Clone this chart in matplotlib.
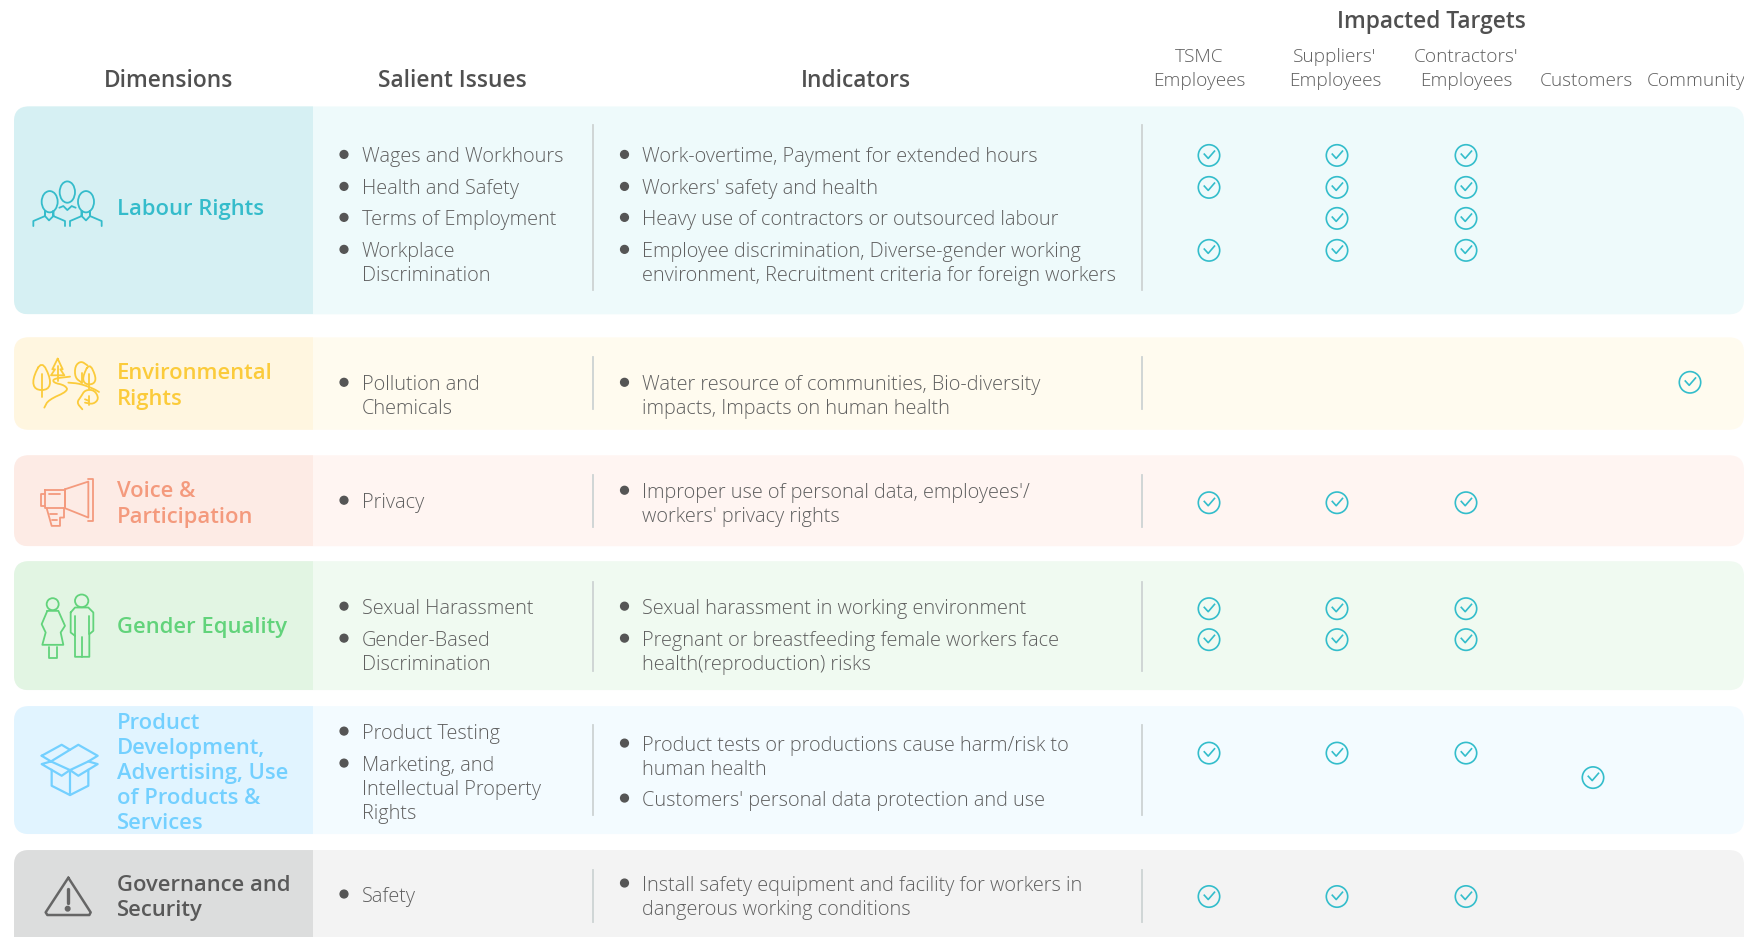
import matplotlib
matplotlib.use('Agg')
import matplotlib.pyplot as plt
from matplotlib.patches import FancyBboxPatch, Rectangle, Ellipse, Circle

plt.rcParams['font.family'] = ['Open Sans', 'DejaVu Sans']

# data
dimensions = ["Labour Rights", "Environmental\nRights", "Voice &\nParticipation", "Gender Equality",
              "Product\nDevelopment,\nAdvertising, Use\nof Products &\nServices", "Governance and\nSecurity"]
issues = [["Wages and Workhours", "Health and Safety", "Terms of Employment", "Workplace\nDiscrimination"],
          ["Pollution and\nChemicals"],
          ["Privacy"],
          ["Sexual Harassment", "Gender-Based\nDiscrimination"],
          ["Product Testing", "Marketing, and\nIntellectual Property\nRights"],
          ["Safety"]]
indicators = [["Work-overtime, Payment for extended hours", "Workers' safety and health",
               "Heavy use of contractors or outsourced labour",
               "Employee discrimination, Diverse-gender working\nenvironment, Recruitment criteria for foreign workers"],
              ["Water resource of communities, Bio-diversity\nimpacts, Impacts on human health"],
              ["Improper use of personal data, employees'/\nworkers' privacy rights"],
              ["Sexual harassment in working environment",
               "Pregnant or breastfeeding female workers face\nhealth(reproduction) risks"],
              ["Product tests or productions cause harm/risk to\nhuman health", "Customers' personal data protection and use"],
              ["Install safety equipment and facility for workers in\ndangerous working conditions"]]
targets = ["TSMC\nEmployees", "Suppliers'\nEmployees", "Contractors'\nEmployees", "Customers", "Community"]
# one row per check line, one column per target
checks = [[[1, 1, 1, 0, 0], [1, 1, 1, 0, 0], [0, 1, 1, 0, 0], [1, 1, 1, 0, 0]],
          [[0, 0, 0, 0, 1]],
          [[1, 1, 1, 0, 0]],
          [[1, 1, 1, 0, 0], [1, 1, 1, 0, 0]],
          [[1, 1, 1, 0, 0], [0, 0, 0, 1, 0]],
          [[1, 1, 1, 0, 0]]]

# layout, pixels of the full size picture
row_top = [107, 338, 456, 562, 707, 851]
row_bot = [315, 430.5, 547, 691, 835, 980]
left_col = ['#d6f0f3', '#fff6e0', '#fdebe5', '#e2f5e3', '#e1f4ff', '#dcdddd']
right_col = ['#eefafb', '#fffbef', '#fff5f2', '#f0faf1', '#f3fbff', '#f3f3f3']
text_col = ['#35bccb', '#fbcb3b', '#f49a7d', '#62d37b', '#73d0ff', '#595959']
label_y = [208, [372, 398], [490, 516], 626, [722, 747, 772, 797.5, 822.5], [884, 909]]
issue_y = [[155, 187, 218, 250], [383], [501], [607, 639], [732, 764], [895]]
ind_y = [[155, 187, 218, 250], [383], [491], [607, 639], [744, 799], [884]]
check_y = [[156, 188, 219, 251], [383], [503.5], [609.5, 640.5], [754, 778.5], [897.5]]
check_x = [1209, 1337, 1466, 1593, 1690]
head_x = [1199, 1335, 1466, 1586, 1696.5]
div_span = [(126, 291), (358, 410), (476, 528), (583, 672), (726, 816), (871, 923)]
line_h = 24
body_size = 14.3
body_col = '#5f5f5f'
head_col = '#505050'


def put(ax, x, y, s, **kw):
    # y is the visual middle of the line, text goes on its baseline
    ax.text(x, y + 7, s, va='baseline', **kw)


def smooth(pts, closed, n=2):
    for _ in range(n):
        out = [] if closed else [pts[0]]
        m = len(pts)
        for j in range(m if closed else m - 1):
            a, b = pts[j], pts[(j + 1) % m]
            out.append((0.75 * a[0] + 0.25 * b[0], 0.75 * a[1] + 0.25 * b[1]))
            out.append((0.25 * a[0] + 0.75 * b[0], 0.25 * a[1] + 0.75 * b[1]))
        if not closed:
            out.append(pts[-1])
        pts = out
    return pts


def icon_line(ax, pts, col, ox, oy, lw=1.3, closed=False, soft=False):
    if soft:
        pts = smooth(pts, closed)
    xs = [ox + p[0] / 3 for p in pts]
    ys = [oy + p[1] / 3 for p in pts]
    if closed:
        xs.append(xs[0])
        ys.append(ys[0])
    ax.plot(xs, ys, color=col, lw=lw, solid_capstyle='round', solid_joinstyle='round')


def icon_oval(ax, cx, cy, w, h, col, ox, oy, lw=1.3):
    ax.add_patch(Ellipse((ox + cx / 3, oy + cy / 3), w / 3, h / 3, fill=False, ec=col, lw=lw))


def draw_icons(ax):
    c = text_col[0]
    ox, oy = 25, 170
    icon_oval(ax, 74, 97, 48, 64, c, ox, oy)
    icon_oval(ax, 127, 68, 46, 64, c, ox, oy)
    icon_oval(ax, 183, 97, 48, 64, c, ox, oy)
    icon_line(ax, [(25, 170), (25, 155), (60, 140), (60, 125), (60, 140), (72, 153), (85, 140), (85, 125), (85, 140), (120, 155), (120, 170)], c, ox, oy)
    icon_line(ax, [(135, 170), (135, 155), (170, 140), (170, 125), (170, 140), (183, 153), (195, 140), (195, 125), (195, 140), (230, 155), (230, 170)], c, ox, oy)
    icon_line(ax, [(103, 115), (115, 110), (127, 122), (140, 110), (152, 115)], c, ox, oy)
    c = text_col[1]
    ox, oy = 25, 350
    icon_line(ax, [(50, 33), (22, 90), (30, 122), (70, 122), (78, 90)], c, ox, oy, closed=True, soft=True)
    icon_line(ax, [(50, 75), (50, 143)], c, ox, oy)
    icon_line(ax, [(98, 28), (82, 60), (90, 60), (78, 78), (118, 78), (106, 60), (113, 60)], c, ox, oy, closed=True)
    icon_line(ax, [(98, 50), (98, 95)], c, ox, oy)
    icon_line(ax, [(58, 175), (70, 152), (130, 125), (120, 108), (85, 100), (85, 88), (135, 82)], c, ox, oy, soft=True)
    icon_line(ax, [(130, 100), (165, 103), (205, 118), (222, 128)], c, ox, oy, soft=True)
    icon_line(ax, [(193, 40), (172, 85), (180, 105), (206, 105), (214, 85)], c, ox, oy, closed=True, soft=True)
    icon_line(ax, [(193, 75), (193, 118)], c, ox, oy)
    icon_line(ax, [(170, 100), (150, 85), (150, 50), (168, 35), (187, 48)], c, ox, oy, soft=True)
    icon_line(ax, [(170, 70), (170, 100)], c, ox, oy)
    icon_line(ax, [(172, 180), (155, 160), (168, 142), (180, 122), (208, 122), (222, 148), (205, 165), (180, 160)], c, ox, oy, soft=True)
    icon_line(ax, [(192, 140), (192, 168)], c, ox, oy)
    icon_line(ax, [(180, 150), (192, 155)], c, ox, oy)
    c = text_col[2]
    icon_line(ax, [(195, 150), (265, 127), (265, 235), (195, 207)], c, 0, 440, closed=True)
    icon_line(ax, [(265, 118), (280, 118), (280, 245), (265, 245)], c, 0, 440)
    icon_line(ax, [(135, 152), (195, 152), (195, 207), (135, 207)], c, 0, 440, closed=True)
    icon_line(ax, [(135, 163), (122, 163), (122, 200), (135, 200)], c, 0, 440)
    icon_line(ax, [(148, 165), (180, 165)], c, 0, 440)
    icon_line(ax, [(140, 207), (155, 260), (180, 260), (180, 235), (192, 235), (192, 207)], c, 0, 440)
    icon_line(ax, [(150, 225), (170, 225)], c, 0, 440)
    icon_line(ax, [(155, 243), (170, 243)], c, 0, 440)
    c = text_col[3]
    icon_oval(ax, 158, 495, 36, 36, c, 0, 440)
    icon_line(ax, [(142, 515), (175, 515), (195, 560), (182, 580), (190, 617), (127, 617), (137, 580), (125, 555)], c, 0, 440, closed=True)
    icon_line(ax, [(147, 625), (147, 657), (170, 657), (170, 625)], c, 0, 440)
    icon_oval(ax, 245, 485, 40, 38, c, 0, 440)
    icon_line(ax, [(212, 520), (225, 505), (265, 505), (280, 520), (280, 575), (268, 585), (268, 653), (225, 653), (225, 590), (212, 580)], c, 0, 440, closed=True)
    icon_line(ax, [(246, 595), (246, 655)], c, 0, 440)
    icon_line(ax, [(225, 530), (225, 590)], c, 0, 440)
    icon_line(ax, [(268, 530), (268, 585)], c, 0, 440)
    c = text_col[4]
    ox, oy = 25, 730
    icon_line(ax, [(50, 80), (110, 47), (135, 62), (78, 97)], c, ox, oy, lw=1.6, closed=True)
    icon_line(ax, [(135, 62), (160, 47), (218, 80), (190, 97)], c, ox, oy, lw=1.6)
    icon_line(ax, [(78, 97), (50, 105), (110, 140), (135, 123), (160, 140), (218, 105), (190, 97), (135, 123), (78, 97)], c, ox, oy, lw=1.6)
    icon_line(ax, [(80, 122), (80, 170), (135, 198), (190, 170), (190, 122)], c, ox, oy, lw=1.6)
    icon_line(ax, [(135, 123), (135, 198)], c, ox, oy, lw=1.6)
    c = '#666666'
    icon_line(ax, [(205, 1316), (272, 1420), (268, 1428), (142, 1428), (137, 1420)], c, 0, 440, lw=1.8, closed=True)
    icon_line(ax, [(203, 1350), (203, 1392)], c, 0, 440, lw=2.4)
    ax.add_patch(Circle((203 / 3, 440 + 1409 / 3), 2.3, color=c))


def draw_check(ax, x, y, col='#33bdcb'):
    ax.add_patch(Circle((x, y), 10.7, fill=False, ec=col, lw=1.2))
    ax.plot([x - 4.7, x - 0.8, x + 5.5], [y - 1.3, y + 3, y - 4.3], color=col, lw=1.2)


fig = plt.figure(figsize=(17.44, 9.375), dpi=100)
ax = fig.add_axes([0, 0, 1, 1])
ax.set_xlim(0, 1744)
ax.set_ylim(938, 0)
ax.axis('off')

# headers
for x, s in zip([169, 452, 856], ["Dimensions", "Salient Issues", "Indicators"]):
    put(ax, x, 80, s, ha='center', fontsize=16.4, fontweight='semibold', color=head_col)
put(ax, 1431, 21, "Impacted Targets", ha='center', fontsize=16.4, fontweight='semibold', color=head_col)
for x, s in zip(head_x, targets):
    parts = s.split('\n')
    for k, p in enumerate(parts):
        put(ax, x, 79.5 - (len(parts) - 1 - k) * line_h, p, ha='center', fontsize=13.7, fontweight='light', color=body_col)

for i in range(len(dimensions)):
    h = row_bot[i] - row_top[i]
    ax.add_patch(FancyBboxPatch((14, row_top[i]), 1730, h, boxstyle='round,pad=0,rounding_size=15', fc=right_col[i], ec='none'))
    left = FancyBboxPatch((14, row_top[i]), 1730, h, boxstyle='round,pad=0,rounding_size=15', fc=left_col[i], ec='none')
    ax.add_patch(left)
    left.set_clip_path(Rectangle((0, row_top[i]), 313, h, transform=ax.transData))

    ys = label_y[i] if isinstance(label_y[i], list) else [label_y[i]]
    for y, p in zip(ys, dimensions[i].split('\n')):
        put(ax, 117, y, p, fontsize=15.8, fontweight='semibold', color=text_col[i])

    for col_x, items, first in ((361.5, issues[i], issue_y[i]), (642, indicators[i], ind_y[i])):
        for s, y in zip(items, first):
            ax.add_patch(Circle((col_x - 17.5, y), 3.9, color='#555555'))
            for k, p in enumerate(s.split('\n')):
                put(ax, col_x, y + k * line_h, p, fontsize=body_size, fontweight='light', color=body_col)

    for x in (593, 1142):
        ax.plot([x, x], div_span[i], color='#cdd3d3', lw=1.3)

    for y, row in zip(check_y[i], checks[i]):
        for x, on in zip(check_x, row):
            if on:
                draw_check(ax, x, y)

draw_icons(ax)
ax.set_xlim(0, 1744)
ax.set_ylim(938, 0)
fig.savefig('out.png', dpi=100)
